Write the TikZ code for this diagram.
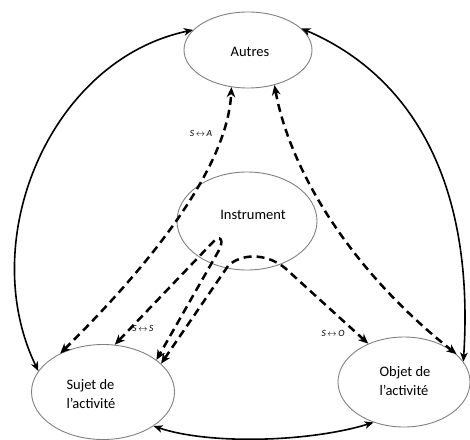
\documentclass[tikz,border=0pt]{standalone}
\usepackage{fontspec}
\setmainfont{Carlito}
\usetikzlibrary{shapes.geometric,arrows.meta}
\begin{document}
\begin{tikzpicture}[x=1pt,y=-1pt,
  ell/.style={ellipse,draw=black!50,line width=0.9pt,inner sep=0pt},
  stip/.tip={Stealth[length=9pt,width=7.5pt,inset=2.5pt]},
  dtip/.tip={Stealth[length=10pt,width=8.5pt,inset=3pt]},
  sline/.style={line width=1.6pt,stip-stip},
  dline/.style={line width=2.5pt,dash pattern=on 8pt off 5pt,dtip-dtip},
  txt/.style={font=\fontsize{14.5}{19}\selectfont,align=left,inner sep=0pt},
  lab/.style={font=\fontsize{9.5}{10}\selectfont\itshape,inner sep=0pt}]
\useasboundingbox (0,0) rectangle (470,439);
% ellipses
\node[ell,minimum width=128pt,minimum height=76pt] (A) at (248,50) {};
\node[ell,minimum width=140pt,minimum height=98pt] (I) at (247,221) {};
\node[ell,minimum width=143pt,minimum height=95pt] (S) at (103,392) {};
\node[ell,minimum width=132pt,minimum height=90pt] (O) at (404,382) {};
% texts
\node[txt] (At) at (250,52) {Autres};
\node[txt] (It) at (253,215) {Instrument};
\node[txt] (St) at (91,394) {Sujet de\\l’activité};
\node[txt] (Ot) at (405,381) {Objet de\\l’activité};
% solid connectors
\draw[sline] (S.162) .. controls (-25,240) and (50,60) .. (A.160);
\draw[sline] (A.22) .. controls (410,75) and (475,180) .. (O.19);
\draw[sline] (S.-34) .. controls (210,445) and (310,442) .. (O.233);
% dashed connectors
\draw[dline] (S.138) .. controls (165,250) and (228,160) .. (A.246);
\draw[dline] (A.307) .. controls (290,170) and (350,270) .. (O.28);
\coordinate (ss1) at (213,242);
\coordinate (ss2) at (218,252);
\draw[dline] (S.76) -- (ss1) .. controls (220,234) and (225,240) .. (ss2) -- (S.31);
\coordinate (so1) at (228,266);
\coordinate (so2) at (285,268);
\draw[dline] (S.26) -- (so1) .. controls (240,254) and (265,252) .. (so2) -- (O.133);
% labels
\node[lab] (lA) at (201,133) {S\,$\leftrightarrow$\,A};
\node[lab] (lS) at (143,328) {S\,$\leftrightarrow$\,S};
\node[lab] (lO) at (333,333) {S\,$\leftrightarrow$\,O};
\end{tikzpicture}
\end{document}
